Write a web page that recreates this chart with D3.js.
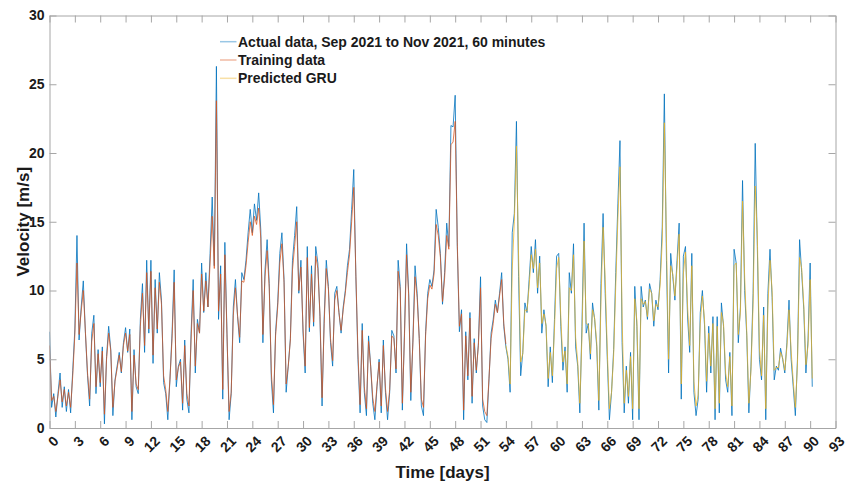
<!DOCTYPE html>
<html><head><meta charset="utf-8">
<script src="https://cdn.jsdelivr.net/npm/d3@7"></script>
<style>
body{margin:0;background:#fff}
text{font-family:"Liberation Sans",Arial,Helvetica,sans-serif;font-weight:bold;fill:#1a1a1a}
</style>
</head><body><svg id="c" width="850" height="484"></svg>
<script>
// ---------------- DATA ----------------
const xTickLabels = [0,3,6,9,12,15,18,21,24,27,30,33,36,39,42,45,48,51,54,57,60,63,66,69,72,75,78,81,84,87,90,93];
const yTickLabels = [0,5,10,15,20,25,30];
const sampleStepDays = 0.25;      // one value every 6 hours
const actualStartDay = 0;
const trainingStartDay = 0;
const predictedStartDay = 54;
const legendLabels = ["Actual data, Sep 2021 to Nov 2021, 60 minutes", "Training data", "Predicted GRU"];

const actual = [
7.0,1.5,2.5,0.8, 2.5,4.0,1.5,3.0, 1.2,2.8,1.1,4.2, 7.2,14.0,6.4,8.8, 10.7,6.9,3.8,1.6,
6.9,8.2,2.5,5.7, 3.0,5.9,0.3,5.2, 7.4,5.7,0.9,3.5, 4.5,5.5,4.0,6.2, 7.3,5.5,7.2,0.6,
5.7,3.0,2.5,7.9, 10.5,5.5,12.2,6.9, 12.2,4.7,10.8,6.9, 11.3,9.3,3.3,2.5, 0.6,3.5,6.9,11.5,
3.0,4.5,5.0,1.3, 6.4,2.1,1.1,6.9, 10.8,4.0,7.9,6.9, 12.0,8.4,11.3,8.8, 12.7,16.8,11.8,26.3,
7.9,11.8,2.1,13.5, 6.9,0.6,2.5,8.8, 10.8,8.1,6.2,11.3, 10.8,12.2,14.2,15.9, 14.2,16.3,15.1,17.1,
14.4,6.2,11.5,13.7, 10.5,3.5,1.1,7.0, 9.1,12.7,14.2,10.8, 2.6,4.5,6.5,12.2, 14.0,16.1,9.8,12.2,
6.9,4.0,13.2,7.0, 11.8,7.4,13.2,12.0, 8.1,1.6,8.0,12.2, 10.3,6.2,4.5,9.8, 10.3,8.4,6.9,8.8,
10.0,11.8,13.0,15.9, 18.8,11.0,5.0,1.1, 7.6,2.6,0.9,6.7, 4.5,1.8,0.6,3.0, 5.0,1.1,6.4,2.6,
0.6,2.6,7.1,6.7, 4.0,12.2,10.3,1.3, 6.9,13.4,9.8,2.0, 6.4,11.8,9.8,6.5, 1.6,0.9,7.0,9.8,
10.8,10.3,11.5,15.9, 14.6,12.7,9.0,11.3, 14.9,13.2,22.0,21.9, 24.2,13.2,7.0,8.6, 0.6,7.0,3.5,8.4,
1.8,6.5,4.0,6.2, 11.0,1.6,0.6,0.4, 3.5,6.9,7.9,9.3, 8.4,9.8,11.3,7.4, 5.9,5.0,2.6,14.2,
15.6,22.3,11.0,3.8, 5.5,9.1,8.4,10.8, 13.2,11.3,13.7,9.8, 12.5,6.9,8.6,7.4, 3.0,5.9,3.3,7.9,
12.5,12.7,7.4,4.2, 5.9,2.6,11.3,9.8, 13.4,5.9,4.5,1.1, 7.4,14.9,6.9,7.6, 5.0,9.1,7.9,5.9,
1.3,10.5,15.6,9.8, 5.0,0.6,2.6,5.7, 11.3,16.3,20.9,6.2, 1.1,4.5,1.8,5.5, 0.6,10.3,7.4,0.6,
10.3,8.8,9.3,7.9, 10.5,9.8,7.4,9.3, 8.6,10.8,14.6,24.3, 12.2,4.0,12.7,11.0, 9.3,12.2,14.9,2.1,
12.5,13.2,8.0,5.5, 12.7,2.6,0.9,2.1, 8.4,10.0,7.5,2.6, 7.4,4.0,8.1,0.6, 8.1,1.1,9.1,7.4,
3.5,2.6,5.5,0.9, 13.0,12.0,6.2,8.8, 18.0,10.0,6.7,1.1, 4.5,9.8,20.7,13.2, 5.0,3.5,8.8,0.6,
9.8,13.0,9.5,3.5, 4.5,4.2,5.8,5.0, 4.0,6.2,9.3,5.0, 3.0,0.9,5.0,13.7, 11.3,8.6,4.0,6.4,
12.0,3.0
];

const training = [
6.0,2.0,2.3,1.2, 2.3,3.5,1.9,2.8, 1.6,2.6,1.5,3.8, 6.8,12.0,6.8,8.5, 10.0,7.0,4.0,2.1,
6.3,7.6,3.0,5.4, 3.3,5.6,1.0,5.0, 6.9,5.6,1.5,3.4, 4.3,5.3,4.1,6.0, 6.9,5.6,6.8,1.2,
5.3,3.2,2.8,7.4, 9.8,6.0,11.3,7.2, 11.4,5.3,10.2,7.2, 10.6,9.0,3.8,2.8, 1.2,3.5,6.5,10.6,
3.5,4.4,4.8,1.8, 6.0,2.5,1.6,6.4, 10.0,4.5,7.6,6.9, 11.2,8.5,10.7,8.8, 12.0,15.4,11.6,23.8,
8.5,11.2,2.8,12.6, 6.8,1.2,2.6,8.2, 10.2,8.2,6.6,10.7, 10.6,11.8,13.5,15.0, 14.0,15.4,14.8,16.0,
13.8,6.8,11.0,12.9, 10.2,4.0,1.7,6.7, 8.8,12.0,13.4,10.6, 3.2,4.5,6.4,11.5, 13.2,15.0,10.0,11.7,
7.2,4.5,12.4,7.3, 11.2,7.7,12.5,11.6, 8.3,2.2,7.6,11.6, 10.1,6.5,4.9,9.3, 10.0,8.4,7.1,8.6,
9.8,11.3,12.6,15.0, 17.5,11.2,5.4,1.7, 7.1,3.0,1.4,6.3, 4.5,2.2,1.2,3.1, 4.8,1.6,6.0,2.9,
1.2,2.8,6.7,6.5, 4.3,11.4,10.0,1.8, 6.6,12.6,9.6,2.6, 6.2,11.0,9.5,6.5, 2.1,1.5,6.7,9.4,
10.4,10.1,11.2,14.8, 14.0,12.4,9.2,10.9, 14.0,13.0,20.6,20.8, 22.3,13.5,7.4,8.3, 1.3,6.7,3.8,8.0,
2.3,6.2,4.2,6.0, 10.2,2.1,1.2,0.9, 3.6,6.5,7.6,9.0, 8.4,9.6,10.8,7.6, 6.1
];

const predicted = [
6.0,5.2,3.2,11.5, 15.0,20.5,12.5,4.8, 5.4,8.6,8.5,10.3, 12.6,11.6,13.0,10.2, 12.0,7.6,8.3,7.5,
3.6,5.5,3.8,7.2, 11.6,12.4,8.0,4.8, 5.6,3.2,10.2,10.0, 12.6,6.6,4.8,1.8, 6.6,13.6,7.6,7.5,
5.4,8.6,8.0,6.2, 2.0,9.2,14.6,10.8, 5.6,1.4,2.6,5.3, 10.4,15.2,19.0,8.0, 1.8,4.2,2.3,5.2,
1.4,9.4,7.8,1.4, 9.4,9.0,9.2,8.1, 10.1,9.8,7.8,9.0, 8.8,10.4,13.6,22.2, 13.6,5.0,11.8,11.2,
9.6,11.7,14.1,3.2, 11.2,12.8,8.8,6.0, 11.8,3.4,1.6,2.4, 7.6,9.6,7.9,3.4, 6.9,4.5,7.6,1.4,
7.4,1.8,8.4,7.6, 4.0,3.0,5.2,1.6, 11.8,12.0,6.8,8.4, 16.5,11.0,7.0,1.8, 4.2,9.0,17.6,14.0,
5.8,3.8,8.2,1.4, 8.8,12.2,10.0,4.2, 4.4,4.4,5.5,5.1, 4.2,5.9,8.6,5.6, 3.4,1.5,4.6,12.4,
11.6,8.9,4.6,6.0, 10.8,3.6
];

// ---------------- CHART ----------------
const svg = d3.select("#c");
const x = d3.scaleLinear().domain([0, 93]).range([49.5, 835.5]);
const y = d3.scaleLinear().domain([0, 30]).range([428, 15.5]);
const axisColor = "#a6a6a6";

svg.append("defs").append("clipPath").attr("id","clip")
  .append("rect").attr("x",x(0)).attr("y",y(30)).attr("width",x(93)-x(0)).attr("height",y(0)-y(30));

function series(vals, start){ return vals.map((v,i)=>({t:start+i*sampleStepDays, v})); }
const line = d3.line().x(d=>x(d.t)).y(d=>y(d.v));

const plot = svg.append("g").attr("clip-path","url(#clip)");
const colors = ["#0072BD", "#D95319", "#EDB120"];
[[actual, actualStartDay],[training, trainingStartDay],[predicted, predictedStartDay]].forEach(([vals,start],k)=>{
  plot.append("path").datum(series(vals,start)).attr("d",line)
    .attr("fill","none").attr("stroke",colors[k]).attr("stroke-width",1)
    .attr("stroke-opacity", k===0?0.8:0.75).attr("stroke-linejoin","round");
});

// axes (box with inward ticks)
const gB = svg.append("g").attr("transform",`translate(0,${y(0)})`)
  .call(d3.axisBottom(x).tickValues(xTickLabels).tickSizeInner(-7).tickSizeOuter(0).tickFormat(d3.format("d")));
gB.selectAll("text").attr("x",6).attr("y",10.5).attr("dy","0.35em")
  .attr("text-anchor","end").attr("transform","rotate(-45,6,10.5)");
const gT = svg.append("g").attr("transform",`translate(0,${y(30)})`)
  .call(d3.axisTop(x).tickValues(xTickLabels).tickSizeInner(-7).tickSizeOuter(0).tickFormat(""));
const gL = svg.append("g").attr("transform",`translate(${x(0)},0)`)
  .call(d3.axisLeft(y).tickValues(yTickLabels).tickSizeInner(-7).tickSizeOuter(0).tickPadding(5));
const gR = svg.append("g").attr("transform",`translate(${x(93)},0)`)
  .call(d3.axisRight(y).tickValues(yTickLabels).tickSizeInner(-7).tickSizeOuter(0).tickFormat(""));
[gB,gT,gL,gR].forEach(g=>{
  g.selectAll(".domain,line").attr("stroke",axisColor);
  g.selectAll("text").attr("font-size",14).attr("font-family",null).attr("fill","#1a1a1a");
});

// axis titles
svg.append("text").attr("x",442.5).attr("y",472).attr("dy","0.35em").attr("text-anchor","middle")
  .attr("font-size",17).text("Time [days]");
svg.append("text").attr("transform",`translate(23,${(y(0)+y(30))/2}) rotate(-90)`)
  .attr("dy","0.35em").attr("text-anchor","middle").attr("font-size",17).text("Velocity [m/s]");

// legend
const lg = svg.append("g");
legendLabels.forEach((lab,i)=>{
  const yy = 41.7 + i*18.3;
  lg.append("line").attr("x1",220).attr("x2",236.5).attr("y1",yy).attr("y2",yy)
    .attr("stroke",colors[i]).attr("stroke-opacity",0.4).attr("stroke-width",1.5);
  lg.append("text").attr("x",238).attr("y",yy).attr("dy","0.35em").attr("font-size",14).text(lab);
});
</script></body></html>
